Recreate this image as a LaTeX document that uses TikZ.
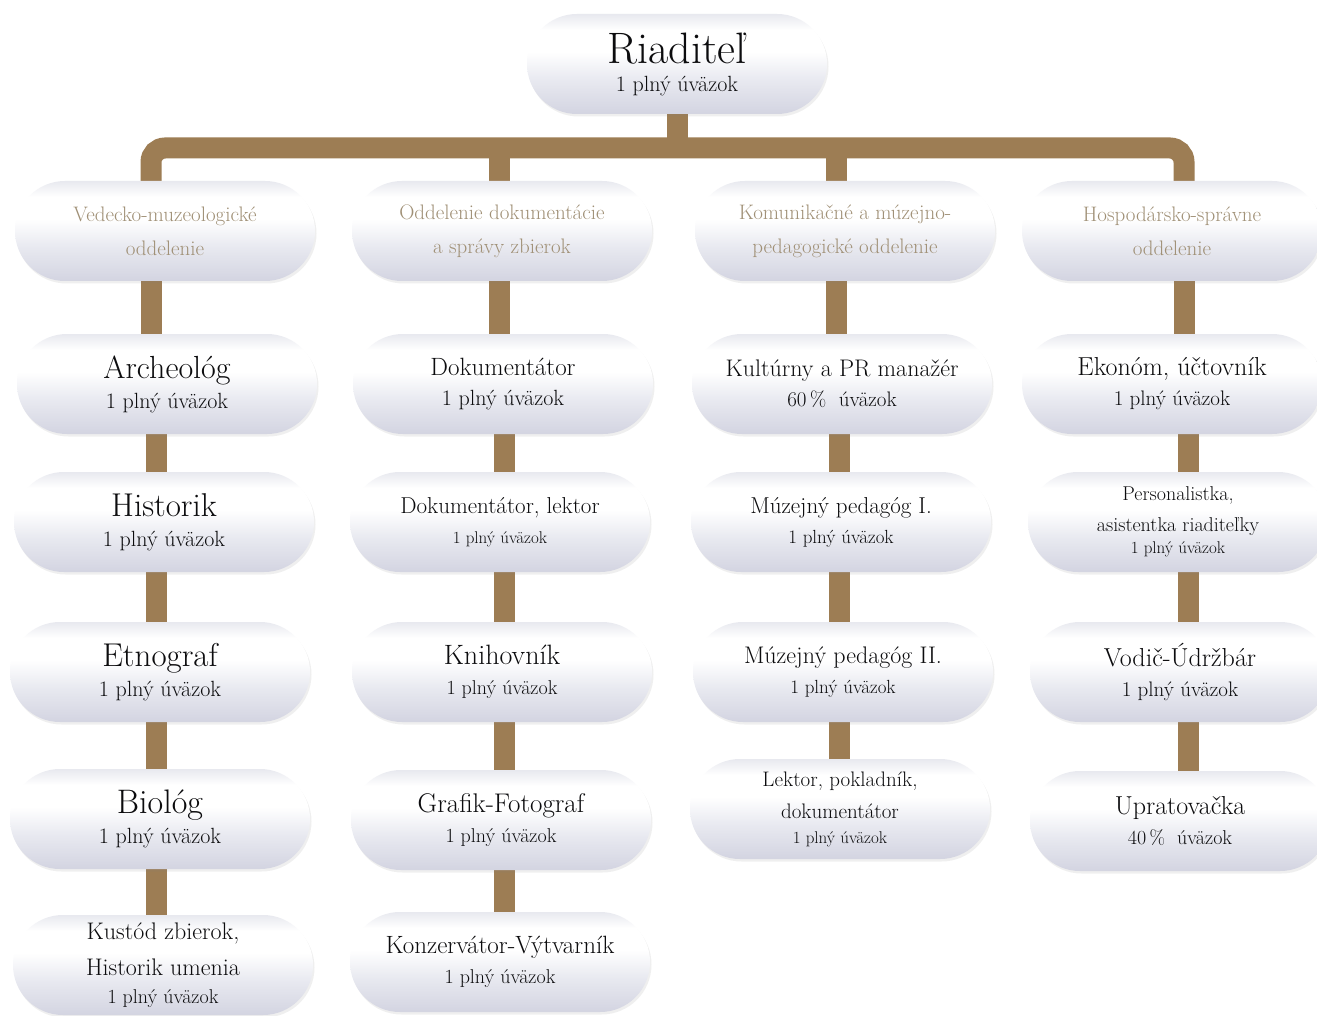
\documentclass[tikz,border=0pt]{standalone}
\usetikzlibrary{shapes.misc,shadows,backgrounds}
\definecolor{brownbar}{RGB}{157,125,84}
\definecolor{depttext}{RGB}{160,144,118}
\definecolor{ink}{RGB}{12,12,14}
\definecolor{pilltop}{RGB}{232,233,239}
\definecolor{pillmid}{RGB}{232,233,240}
\definecolor{pillbot}{RGB}{211,212,225}
\pgfdeclareverticalshading{pillshade}{100bp}{
  color(0bp)=(pillbot); color(25bp)=(pillbot); color(42bp)=(pillmid);
  color(56bp)=(white); color(67bp)=(white); color(75bp)=(pilltop);
  color(100bp)=(pilltop)}
\pgfdeclarelayer{bars}
\pgfsetlayers{background,bars,main}
\newcommand\fs[1]{\fontsize{#1}{#1}\selectfont}
\begin{document}
\begin{tikzpicture}[x=1pt,y=-1pt,
  pill/.style={rounded rectangle, minimum width=300pt, minimum height=100pt,
    inner sep=0pt, shading=pillshade,
    draw=none, text=ink, align=center, font=\fontsize{22}{30}\selectfont,
    drop shadow={opacity=0.12, shadow xshift=1.5pt, shadow yshift=-2.5pt}},
  dept/.style={pill, text=depttext, font=\fontsize{21}{34}\selectfont},
  bar/.style={draw=brownbar, line width=21pt},
]
\begin{pgfonlayer}{background}
\fill[white] (0,0) rectangle (1317,1016);
\end{pgfonlayer}
\useasboundingbox (0,0) rectangle (1317,1016);

% top
\node[pill] (boss) at (677,64) {{\fs{44}Riaditeľ}\\[-2pt]{\fs{22}1 plný úväzok}};

% departments
\node[dept] (v0) at (165,231) {Vedecko-muzeologické\\oddelenie};
\node[dept] (o0) at (502,231) {Oddelenie dokumentácie\\a správy zbierok};
\node[dept] (k0) at (845,231) {Komunikačné a múzejno-\\pedagogické oddelenie};
\node[dept] (h0) at (1172,231) {Hospodársko-správne\\oddelenie};

% column 1
\node[pill] (v1) at (167,384) {{\fs{32}Archeológ}\\{\fs{22}1 plný úväzok}};
\node[pill] (v2) at (164,522) {{\fs{33}Historik}\\{\fs{22}1 plný úväzok}};
\node[pill] (v3) at (160,672) {{\fs{33}Etnograf}\\{\fs{22}1 plný úväzok}};
\node[pill] (v4) at (160,819) {{\fs{34}Biológ}\\{\fs{22}1 plný úväzok}};
\node[pill] (v5) at (163,965) {{\fs{24}Kustód zbierok,}\\[6pt]{\fs{24}Historik umenia}\\[-2pt]{\fs{20}1 plný úväzok}};

% column 2
\node[pill] (o1) at (503,384) {{\fs{25}Dokumentátor}\\{\fs{22}1 plný úväzok}};
\node[pill] (o2) at (500,522) {{\fs{23}Dokumentátor, lektor}\\{\fs{17}1 plný úväzok}};
\node[pill] (o3) at (502,672) {{\fs{28}Knihovník}\\{\fs{20}1 plný úväzok}};
\node[pill] (o4) at (501,820) {{\fs{27}Grafik-Fotograf}\\{\fs{20}1 plný úväzok}};
\node[pill] (o5) at (500,962) {{\fs{25}Konzervátor-Výtvarník}\\{\fs{20}1 plný úväzok}};

% column 3
\node[pill] (k1) at (842,384) {{\fs{24}Kultúrny a PR manažér}\\{\fs{21}60\,\%\ \ úväzok}};
\node[pill] (k2) at (841,522) {{\fs{23}Múzejný pedagóg I.}\\{\fs{19}1 plný úväzok}};
\node[pill] (k3) at (843,672) {{\fs{24}Múzejný pedagóg II.}\\{\fs{19}1 plný úväzok}};
\node[pill] (k4) at (840,809) {{\fs{21}Lektor, pokladník,}\\[2pt]{\fs{21}dokumentátor}\\[-5pt]{\fs{17}1 plný úväzok}};

% column 4
\node[pill] (h1) at (1172,384) {{\fs{26}Ekonóm, účtovník}\\{\fs{21}1 plný úväzok}};
\node[pill] (h2) at (1178,522) {{\fs{20}Personalistka,}\\[1pt]{\fs{20}asistentka riaditeľky}\\[-8pt]{\fs{17}1 plný úväzok}};
\node[pill] (h3) at (1180,672) {{\fs{26}Vodič-Údržbár}\\{\fs{21}1 plný úväzok}};
\node[pill] (h4) at (1180,821) {{\fs{26}Upratovačka}\\{\fs{20}40\,\%\ \ úväzok}};

% connector columns
\coordinate (hub) at (677,148);
\coordinate (xv) at (151,0);
\coordinate (xo) at (499,0);
\coordinate (xk) at (836,0);
\coordinate (xh) at (1184,0);
\coordinate (yv) at (156,0);
\coordinate (yo) at (504,0);
\coordinate (yk) at (839,0);
\coordinate (yh) at (1188,0);

\begin{pgfonlayer}{bars}
  \draw[bar] (boss.south) -- (hub);
  \draw[bar, rounded corners=14pt] (v0.north -| xv) |- (hub) -| (h0.north -| xh);
  \draw[bar] (hub -| xo) -- (o0.north -| xo);
  \draw[bar] (hub -| xk) -- (k0.north -| xk);
  % column 1
  \draw[bar] (v0.south -| xv) -- (v1.north -| xv);
  \draw[bar] (v1.south -| yv) -- (v2.north -| yv);
  \draw[bar] (v2.south -| yv) -- (v3.north -| yv);
  \draw[bar] (v3.south -| yv) -- (v4.north -| yv);
  \draw[bar] (v4.south -| yv) -- (v5.north -| yv);
  % column 2
  \draw[bar] (o0.south -| xo) -- (o1.north -| xo);
  \draw[bar] (o1.south -| yo) -- (o2.north -| yo);
  \draw[bar] (o2.south -| yo) -- (o3.north -| yo);
  \draw[bar] (o3.south -| yo) -- (o4.north -| yo);
  \draw[bar] (o4.south -| yo) -- (o5.north -| yo);
  % column 3
  \draw[bar] (k0.south -| xk) -- (k1.north -| xk);
  \draw[bar] (k1.south -| yk) -- (k2.north -| yk);
  \draw[bar] (k2.south -| yk) -- (k3.north -| yk);
  \draw[bar] (k3.south -| yk) -- (k4.north -| yk);
  % column 4
  \draw[bar] (h0.south -| xh) -- (h1.north -| xh);
  \draw[bar] (h1.south -| yh) -- (h2.north -| yh);
  \draw[bar] (h2.south -| yh) -- (h3.north -| yh);
  \draw[bar] (h3.south -| yh) -- (h4.north -| yh);
\end{pgfonlayer}
\end{tikzpicture}
\end{document}
